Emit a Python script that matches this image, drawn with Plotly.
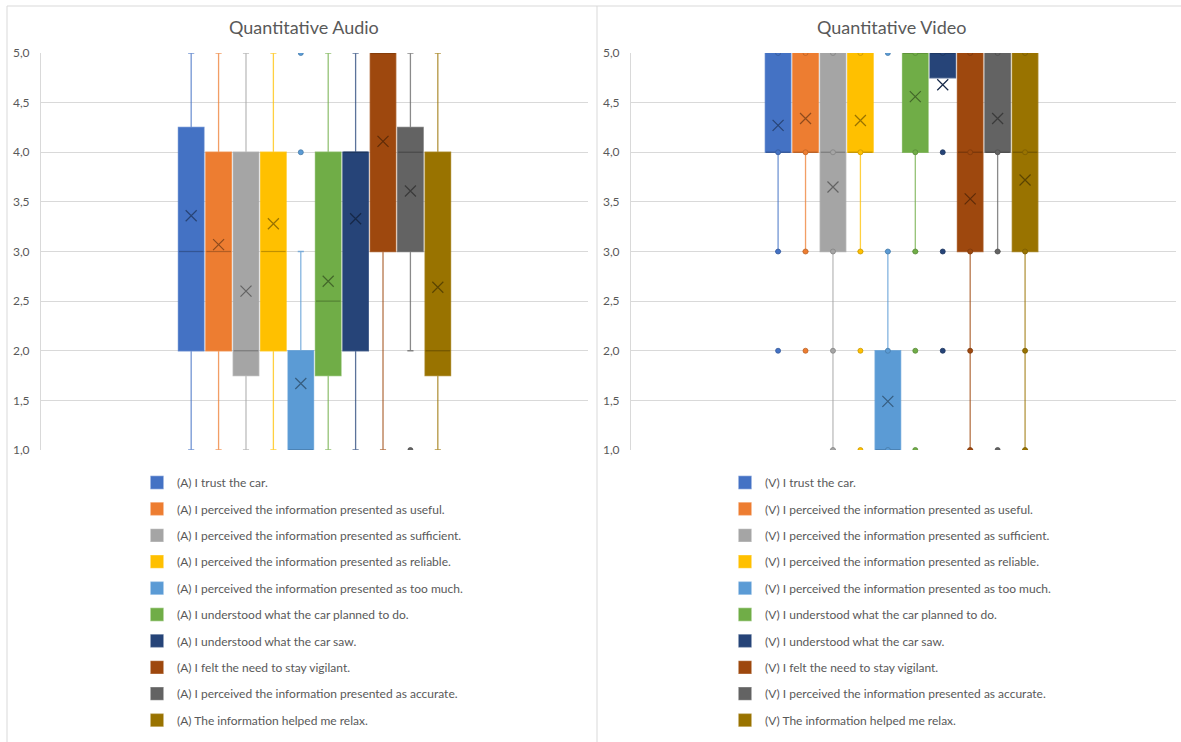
import plotly.graph_objects as go

# ---------------- data ----------------
audio_labels = [
    "(A) I trust the car.",
    "(A) I perceived the information presented as useful.",
    "(A) I perceived the information presented as sufficient.",
    "(A) I perceived the information presented as reliable.",
    "(A) I perceived the information presented as too much.",
    "(A) I understood what the car planned to do.",
    "(A) I understood what the car saw.",
    "(A) I felt the need to stay vigilant.",
    "(A) I perceived the information presented as accurate.",
    "(A) The information helped me relax.",
]
video_labels = [s.replace("(A)", "(V)") for s in audio_labels]
categories = ["trust", "useful", "sufficient", "reliable", "too much",
              "planned", "saw", "vigilant", "accurate", "relax"]

audio_q1 = [2, 2, 1.75, 2, 1, 1.75, 2, 3, 3, 1.75]
audio_median = [3, 3, 2, 3, 1, 2.5, 4, 5, 4, 2]
audio_q3 = [4.25, 4, 4, 4, 2, 4, 4, 5, 4.25, 4]
audio_low = [1, 1, 1, 1, 1, 1, 1, 1, 2, 1]
audio_high = [5, 5, 5, 5, 3, 5, 5, 5, 5, 5]
audio_mean = [3.36, 3.07, 2.60, 3.28, 1.67, 2.70, 3.33, 4.11, 3.61, 2.64]
audio_points = [[], [], [], [], [4, 5], [], [], [], [1], []]

video_q1 = [4, 4, 3, 4, 1, 4, 4.75, 3, 4, 3]
video_median = [4, 4, 4, 4, 1, 5, 5, 4, 4, 4]
video_q3 = [5, 5, 5, 5, 2, 5, 5, 5, 5, 5]
video_low = [3, 3, 1, 3, 1, 3, 4.75, 1, 3, 1]
video_high = [5, 5, 5, 5, 3, 5, 5, 5, 5, 5]
video_mean = [4.27, 4.34, 3.65, 4.32, 1.49, 4.56, 4.68, 3.53, 4.34, 3.72]
video_points = [[5, 4, 3, 2], [5, 4, 3, 2], [5, 4, 3, 2, 1], [5, 4, 3, 2, 1],
                [5, 3, 2, 1], [5, 4, 3, 2, 1], [5, 4, 3, 2], [5, 4, 3, 2, 1],
                [5, 4, 3, 1], [5, 4, 3, 2, 1]]

colors = ["#4472C4", "#ED7D31", "#A5A5A5", "#FFC000", "#5B9BD5",
          "#70AD47", "#264478", "#9E480E", "#636363", "#997300"]

W, H = 1181, 742
FONT = "Lato"
TXT = "#595959"
GRID = "#D9D9D9"


def rgba(h, a):
    h = h.lstrip("#")
    r, g, b = int(h[0:2], 16), int(h[2:4], 16), int(h[4:6], 16)
    return f"rgba({r},{g},{b},{a})"


def darken(h, f):
    h = h.lstrip("#")
    r, g, b = int(h[0:2], 16), int(h[2:4], 16), int(h[4:6], 16)
    return f"rgb({int(r*f)},{int(g*f)},{int(b*f)})"


fig = go.Figure()


def add_panel(labels, q1, med, q3, low, high, mean, points, xa, ya, leg):
    for i in range(len(categories)):
        c = colors[i]
        fig.add_trace(go.Box(
            x=[categories[i]], q1=[q1[i]], median=[med[i]], q3=[q3[i]],
            lowerfence=[low[i]], upperfence=[high[i]],
            name=labels[i], fillcolor=c,
            line=dict(color=rgba(c, 0.75), width=1.3),
            whiskerwidth=0.24, width=0.93, boxpoints=False,
            xaxis=xa, yaxis=ya, legend=leg, legendgroup=leg + str(i),
            hoverinfo="skip"))
    for i in range(len(categories)):
        c = colors[i]
        fig.add_trace(go.Scatter(
            x=[categories[i]], y=[med[i]], mode="markers",
            marker=dict(symbol="line-ew", size=17.5,
                        line=dict(color=darken(c, 0.75), width=1.2)),
            showlegend=False, xaxis=xa, yaxis=ya, hoverinfo="skip"))
        if points[i]:
            fig.add_trace(go.Scatter(
                x=[categories[i]] * len(points[i]), y=points[i], mode="markers",
                marker=dict(symbol="circle", size=5, color=c,
                            line=dict(color=darken(c, 0.8), width=0.8)),
                showlegend=False, xaxis=xa, yaxis=ya, hoverinfo="skip"))
        fig.add_trace(go.Scatter(
            x=[categories[i]], y=[mean[i]], mode="markers",
            marker=dict(symbol="x-thin", size=11,
                        line=dict(color=darken(c, 0.6), width=1.2)),
            showlegend=False, xaxis=xa, yaxis=ya, hoverinfo="skip"))


add_panel(audio_labels, audio_q1, audio_median, audio_q3, audio_low,
          audio_high, audio_mean, audio_points, "x", "y", "legend")
add_panel(video_labels, video_q1, video_median, video_q3, video_low,
          video_high, video_mean, video_points, "x2", "y2", "legend2")

ytop, ybot = 1 - 53 / H, 1 - 450 / H
yax = dict(range=[1, 5], dtick=0.5, tick0=1, tickformat=".1f",
           showgrid=True, gridcolor=GRID, gridwidth=1, zeroline=False,
           showline=True, linecolor=GRID, linewidth=1, ticks="",
           ticklabelstandoff=8, automargin=False,
           tickfont=dict(family=FONT, size=12, color=TXT),
           domain=[ybot, ytop], fixedrange=True)
xax = dict(type="category", categoryorder="array", categoryarray=categories,
           showticklabels=False, showgrid=False, zeroline=False,
           showline=False, ticks="", fixedrange=True, automargin=False)

legend_common = dict(font=dict(family=FONT, size=12, color=TXT),
                     bgcolor="rgba(0,0,0,0)", tracegroupgap=7.4,
                     yanchor="top", xanchor="left", traceorder="grouped")

fig.update_layout(
    width=W, height=H, autosize=False,
    margin=dict(l=0, r=0, t=0, b=0, pad=0, autoexpand=False),
    paper_bgcolor="white", plot_bgcolor="white",
    separators=", ",
    boxmode="overlay",
    xaxis=dict(xax, domain=[41 / W, 588 / W], range=[-5.48, 14.48], anchor="y"),
    yaxis=dict(yax, anchor="x"),
    xaxis2=dict(xax, domain=[631 / W, 1176 / W], range=[-5.36, 14.5], anchor="y2"),
    yaxis2=dict(yax, anchor="x2"),
    legend=dict(legend_common, x=137 / W, y=1 - 468 / H),
    legend2=dict(legend_common, x=725 / W, y=1 - 468 / H),
    annotations=[
        dict(text="Quantitative Audio", x=304 / W, y=1 - 27 / H, xref="paper",
             yref="paper", showarrow=False, xanchor="center", yanchor="middle",
             font=dict(family=FONT, size=18, color=TXT)),
        dict(text="Quantitative Video", x=891 / W, y=1 - 27 / H, xref="paper",
             yref="paper", showarrow=False, xanchor="center", yanchor="middle",
             font=dict(family=FONT, size=18, color=TXT)),
    ],
    shapes=[
        dict(type="line", xref="paper", yref="paper", x0=7 / W, x1=1,
             y0=1 - 6 / H, y1=1 - 6 / H, line=dict(color=GRID, width=1)),
        dict(type="line", xref="paper", yref="paper", x0=7 / W, x1=7 / W,
             y0=0, y1=1 - 6 / H, line=dict(color=GRID, width=1)),
        dict(type="line", xref="paper", yref="paper", x0=597 / W, x1=597 / W,
             y0=0, y1=1 - 6 / H, line=dict(color=GRID, width=1)),
    ],
)

fig.write_html("out.html",
               config={"displayModeBar": False},
               post_script="document.body.style.margin='0';"
                           "document.body.style.overflow='hidden';")
